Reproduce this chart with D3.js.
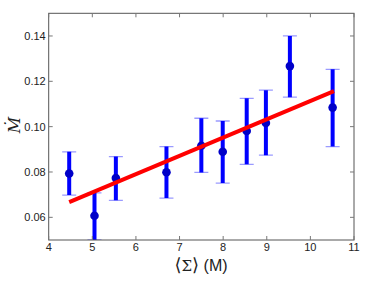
<!DOCTYPE html>
<html><head><meta charset="utf-8">
<script src="https://cdn.jsdelivr.net/npm/d3@7/dist/d3.min.js"></script>
<style>body{margin:0;background:#fff}svg{display:block}</style>
</head><body>
<script>
const xs    = [4.47, 5.05, 5.54, 6.70, 7.50, 7.99, 8.54, 8.98, 9.53, 10.51];
const ys    = [0.0793, 0.0607, 0.0773, 0.0799, 0.0916, 0.0889, 0.0981, 0.1016, 0.1267, 0.1084];
const yTop  = [0.0889, 0.0708, 0.0868, 0.0912, 0.1037, 0.1025, 0.1125, 0.1161, 0.1400, 0.1253];
const yBot  = [0.0698, 0.0500, 0.0675, 0.0685, 0.0798, 0.0751, 0.0834, 0.0874, 0.1130, 0.0912];
const fitX  = [4.47, 10.54];
const fitY  = [0.0667, 0.1157];
const xTicks = [4,5,6,7,8,9,10,11];
const yTicks = [0.06,0.08,0.10,0.12,0.14];

const W=374,H=281;
const L=48.7,R=354,T=13.3,B=240;
const svg=d3.select("body").append("svg").attr("width",W).attr("height",H);
const x=d3.scaleLinear().domain([4,11]).range([L,R]);
const y=d3.scaleLinear().domain([0.05,0.15]).range([B,T]);

svg.append("clipPath").attr("id","c").append("rect").attr("x",L).attr("y",T).attr("width",R-L).attr("height",B-T);
const g=svg.append("g").attr("clip-path","url(#c)");

const data=xs.map((v,i)=>({x:v,y:ys[i],t:yTop[i],b:yBot[i]}));
data.forEach(d=>{
  [d.t,d.b].forEach(v=>{
    g.append("line").attr("x1",x(d.x)-7).attr("x2",x(d.x)+7).attr("y1",y(v)).attr("y2",y(v))
      .attr("stroke","#9a9aff").attr("stroke-width",1.3);
  });
});
g.selectAll(".eb").data(data).enter().append("line")
  .attr("x1",d=>x(d.x)).attr("x2",d=>x(d.x)).attr("y1",d=>y(d.t)).attr("y2",d=>y(d.b))
  .attr("stroke","#0000ff").attr("stroke-width",4);
g.selectAll(".pt").data(data).enter().append("circle")
  .attr("cx",d=>x(d.x)).attr("cy",d=>y(d.y)).attr("r",4.3).attr("fill","#0000c8");
g.append("line").attr("x1",x(fitX[0])).attr("y1",y(fitY[0])).attr("x2",x(fitX[1])).attr("y2",y(fitY[1]))
  .attr("stroke","#ff0000").attr("stroke-width",4);

svg.append("rect").attr("x",L).attr("y",T).attr("width",R-L).attr("height",B-T)
  .attr("fill","none").attr("stroke","#555").attr("stroke-width",1);

const tickLen=4;
xTicks.forEach(t=>{
  svg.append("line").attr("x1",x(t)).attr("x2",x(t)).attr("y1",B).attr("y2",B-tickLen).attr("stroke","#777");
  svg.append("line").attr("x1",x(t)).attr("x2",x(t)).attr("y1",T).attr("y2",T+tickLen).attr("stroke","#777");
  svg.append("text").attr("x",x(t)).attr("y",B+11).attr("text-anchor","middle")
    .attr("font-family","Liberation Sans, Arial, sans-serif").attr("font-size",11).attr("fill","#222").text(t);
});
yTicks.forEach(t=>{
  svg.append("line").attr("x1",L).attr("x2",L+tickLen).attr("y1",y(t)).attr("y2",y(t)).attr("stroke","#777");
  svg.append("line").attr("x1",R).attr("x2",R-tickLen).attr("y1",y(t)).attr("y2",y(t)).attr("stroke","#777");
  svg.append("text").attr("x",L-3).attr("y",y(t)+4).attr("text-anchor","end")
    .attr("font-family","Liberation Sans, Arial, sans-serif").attr("font-size",11).attr("fill","#222").text(d3.format(".2f")(t));
});

svg.append("text").attr("transform",`translate(${201},${271})`).attr("text-anchor","middle")
  .attr("fill","#222")
  .html('<tspan font-family="DejaVu Serif, serif" font-size="18" font-weight="200">⟨</tspan><tspan font-family="DejaVu Serif, serif" font-size="15">Σ</tspan><tspan font-family="DejaVu Serif, serif" font-size="18" font-weight="200">⟩</tspan><tspan font-family="Liberation Sans, Arial, sans-serif" font-size="16"> (M)</tspan>');
svg.append("text").attr("transform",`translate(${20},${125}) rotate(-90)`).attr("text-anchor","middle")
  .attr("font-family","DejaVu Serif, serif").attr("font-style","italic").attr("font-size",16).attr("fill","#222").text("Ṁ");
</script>
</body></html>
